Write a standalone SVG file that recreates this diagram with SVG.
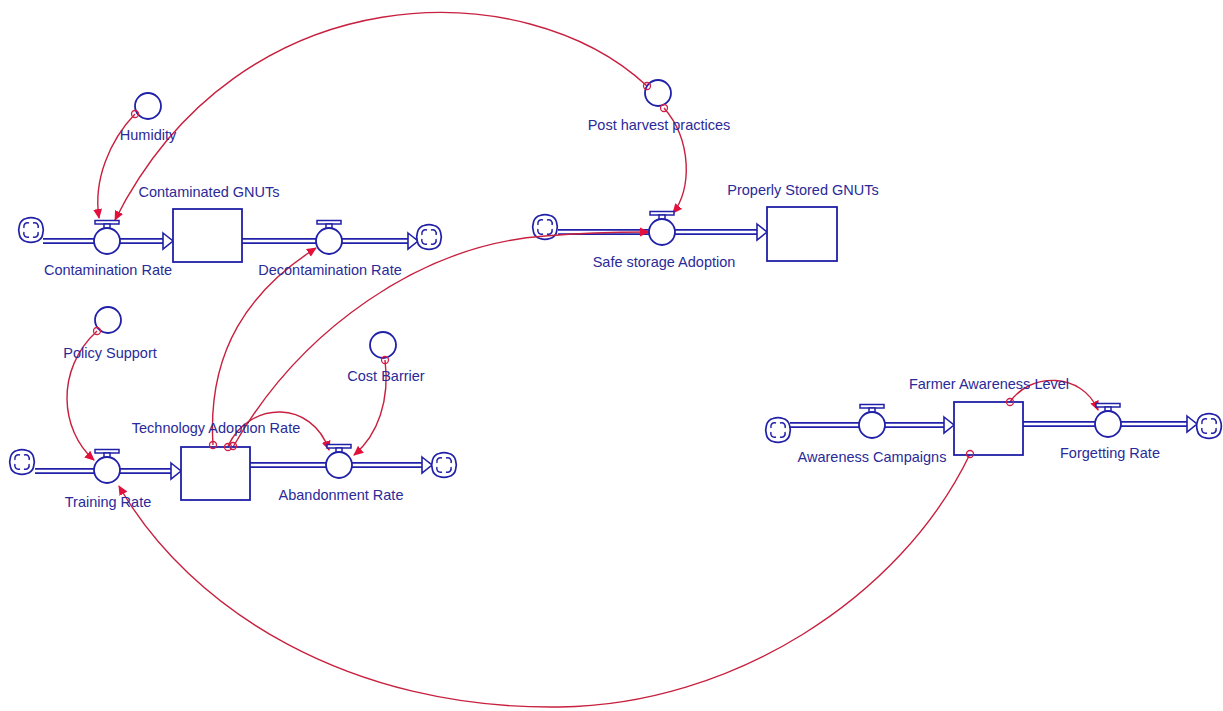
<svg xmlns="http://www.w3.org/2000/svg" xmlns:xlink="http://www.w3.org/1999/xlink" width="1223" height="711" viewBox="0 0 1223 711">
<style>
text{font-family:"Liberation Sans",Arial,sans-serif;font-size:14.5px;fill:#2a2a98;text-anchor:middle}
.stock{fill:#fff;stroke:#2020a8;stroke-width:1.8}
.aux{fill:#fff;stroke:#2020a8;stroke-width:1.8}
.pipeo{fill:none;stroke:#2020a8;stroke-width:5.8}
.pipei{fill:none;stroke:#fff;stroke-width:2.4}
.head{fill:#fff;stroke:#2020a8;stroke-width:1.6;stroke-linejoin:miter}
.link{fill:none;stroke:#c8203f;stroke-width:1.4}
.tail{fill:none;stroke:#d01e48;stroke-width:1.3}
</style>
<defs>
<marker id="arr" viewBox="0 0 10 10" refX="9" refY="5" markerWidth="10" markerHeight="10" markerUnits="userSpaceOnUse" orient="auto">
<path d="M0,0.5 L10,5 L0,9.5 Z" fill="#e4103c"/>
</marker>
<g id="cloud">
<path d="M-5,-11.5 C-2,-12.5 2,-12.5 5,-11.5 C8,-11 11,-8 11.5,-5 C12.5,-2 12.5,2 11.5,5 C11,8 8,11 5,11.5 C2,12.5 -2,12.5 -5,11.5 C-8,11 -11,8 -11.5,5 C-12.5,2 -12.5,-2 -11.5,-5 C-11,-8 -8,-11 -5,-11.5 Z" fill="#fff" stroke="#2020a8" stroke-width="1.7" stroke-linejoin="round"/>
<path d="M-7,-2 C-8,-6 -5,-8 -2,-7 M2,-7 C6,-8 8,-5 7,-2 M7,2 C8,6 5,8 2,7 M-2,7 C-6,8 -8,5 -7,2" fill="none" stroke="#2020a8" stroke-width="1.5"/>
</g>
<g id="valve">
<rect x="-12" y="-20.5" width="24" height="3.5" fill="#fff" stroke="#2020a8" stroke-width="1.5"/>
<rect x="-3" y="-17" width="6" height="4.5" fill="#fff" stroke="#2020a8" stroke-width="1.5"/>
<circle r="13" fill="#fff" stroke="#2020a8" stroke-width="1.8"/>
</g>
</defs>
<rect width="1223" height="711" fill="#fff"/>

<g id="flows">
<path class="pipeo" d="M43,241 L170,241 M242,241 L416,241"/>
<path class="pipei" d="M43,241 L170,241 M242,241 L416,241"/>
<path class="pipeo" d="M558,232 L764,232"/>
<path class="pipei" d="M558,232 L764,232"/>
<path class="pipeo" d="M35,471 L178,471 M250,465 L430,465"/>
<path class="pipei" d="M35,471 L178,471 M250,465 L430,465"/>
<path class="pipeo" d="M790,425 L951,425 M1023,424 L1195,424"/>
<path class="pipei" d="M790,425 L951,425 M1023,424 L1195,424"/>
<polygon class="head" points="163,233 173,241 163,249"/>
<polygon class="head" points="408,233 418,241 408,249"/>
<polygon class="head" points="757,224 767,232 757,240"/>
<polygon class="head" points="171,463 181,471 171,479"/>
<polygon class="head" points="422,457 432,465 422,473"/>
<polygon class="head" points="944,417 954,425 944,433"/>
<polygon class="head" points="1187,416 1197,424 1187,432"/>
</g>

<g id="source-clouds">
<use xlink:href="#cloud" href="#cloud" x="31" y="230"/>
<use xlink:href="#cloud" href="#cloud" x="429" y="237"/>
<use xlink:href="#cloud" href="#cloud" x="545" y="227"/>
<use xlink:href="#cloud" href="#cloud" x="22" y="462"/>
<use xlink:href="#cloud" href="#cloud" x="444" y="465"/>
<use xlink:href="#cloud" href="#cloud" x="778" y="430"/>
<use xlink:href="#cloud" href="#cloud" x="1209" y="426"/>
</g>

<g id="connectors">
<path class="link" d="M647,86 C525,-28 240,-28 115,220" marker-end="url(#arr)"/>
<path class="link" d="M135,114 C110,140 93,180 99,218" marker-end="url(#arr)"/>
<path class="link" d="M664,108 C692,140 692,190 673,213" marker-end="url(#arr)"/>
<path class="link" d="M233,447 C300,330 420,245 545,236 C580,233 620,232 649,232" marker-end="url(#arr)"/>
<path class="link" d="M213,445 C207,350 250,290 316,248" marker-end="url(#arr)"/>
<path class="link" d="M228,446 C250,400 312,400 329,450" marker-end="url(#arr)"/>
<path class="link" d="M97,331 C55,370 60,430 94,460" marker-end="url(#arr)"/>
<path class="link" d="M385,360 C390,400 378,435 354,455" marker-end="url(#arr)"/>
<path class="link" d="M1010,402 C1030,372 1082,372 1098,410" marker-end="url(#arr)"/>
<path class="link" d="M970,454 C900,600 730,705 560,707 C350,710 190,610 119,486" marker-end="url(#arr)"/>
</g>

<g id="humidity"><circle class="aux" cx="148" cy="106" r="13"/><text x="148" y="140">Humidity</text></g>
<g id="post-harvest"><circle class="aux" cx="658" cy="93" r="13"/><text x="659" y="130">Post harvest practices</text></g>
<g id="policy-support"><circle class="aux" cx="108" cy="320" r="13"/><text x="110" y="358">Policy Support</text></g>
<g id="cost-barrier"><circle class="aux" cx="383" cy="345" r="13"/><text x="386" y="381">Cost Barrier</text></g>

<g id="contaminated-gnuts"><rect class="stock" x="173" y="209" width="69" height="53"/><text x="209" y="197">Contaminated GNUTs</text></g>
<g id="properly-stored"><rect class="stock" x="767" y="207" width="70" height="54"/><text x="803" y="195">Properly Stored GNUTs</text></g>
<g id="technology-adoption"><rect class="stock" x="181" y="447" width="69" height="53"/><text x="216" y="433">Technology Adoption Rate</text></g>
<g id="farmer-awareness"><rect class="stock" x="954" y="402" width="69" height="53"/><text x="989" y="389">Farmer Awareness Level</text></g>

<g id="contamination-rate"><use xlink:href="#valve" href="#valve" x="107" y="241"/><text x="108" y="275">Contamination Rate</text></g>
<g id="decontamination-rate"><use xlink:href="#valve" href="#valve" x="329" y="241"/><text x="330" y="275">Decontamination Rate</text></g>
<g id="safe-storage"><use xlink:href="#valve" href="#valve" x="662" y="232"/><text x="664" y="267">Safe storage Adoption</text></g>
<g id="training-rate"><use xlink:href="#valve" href="#valve" x="107" y="470"/><text x="108" y="507">Training Rate</text></g>
<g id="abandonment-rate"><use xlink:href="#valve" href="#valve" x="339" y="465"/><text x="341" y="500">Abandonment Rate</text></g>
<g id="awareness-campaigns"><use xlink:href="#valve" href="#valve" x="872" y="425"/><text x="872" y="462">Awareness Campaigns</text></g>
<g id="forgetting-rate"><use xlink:href="#valve" href="#valve" x="1108" y="424"/><text x="1110" y="458">Forgetting Rate</text></g>

<g id="link-tails">
<circle class="tail" cx="647" cy="86" r="3.5"/>
<circle class="tail" cx="135" cy="114" r="3.5"/>
<circle class="tail" cx="664" cy="108" r="3.5"/>
<circle class="tail" cx="213" cy="445" r="3.5"/>
<circle class="tail" cx="228" cy="447" r="3.5"/>
<circle class="tail" cx="233" cy="446" r="3.5"/>
<circle class="tail" cx="97" cy="331" r="3.5"/>
<circle class="tail" cx="385" cy="360" r="3.5"/>
<circle class="tail" cx="1010" cy="402" r="3.5"/>
<circle class="tail" cx="970" cy="454" r="3.5"/>
</g>
</svg>
